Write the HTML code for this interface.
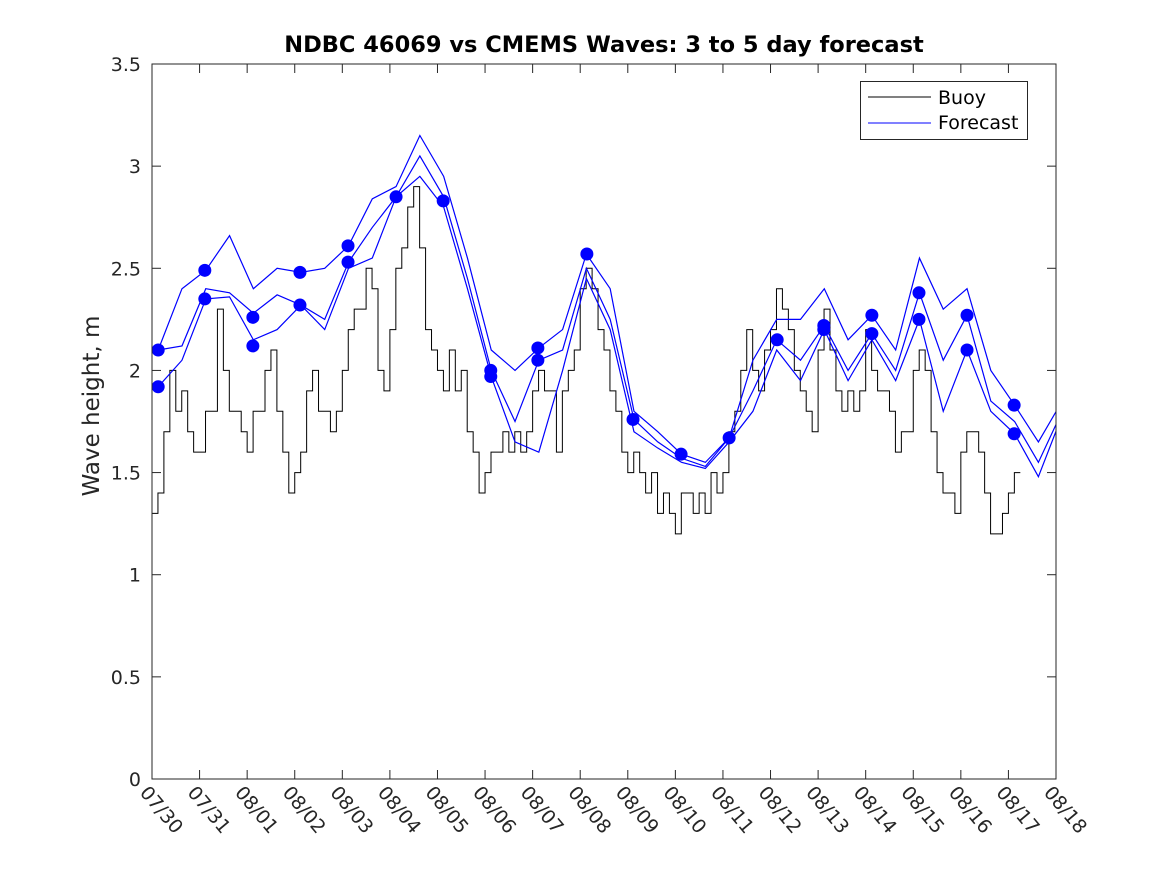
<!DOCTYPE html>
<html><head><meta charset="utf-8"><style>
html,body{margin:0;padding:0;background:#fff;}
svg{display:block;font-family:"DejaVu Sans","Liberation Sans",sans-serif;}
</style></head><body>
<svg id="chart" width="1167" height="875" viewBox="0 0 1167 875">
<rect x="0" y="0" width="1167" height="875" fill="#fff"/>
<defs><clipPath id="pc"><rect x="152" y="64" width="904" height="715"/></clipPath></defs>
<text x="604" y="52" text-anchor="middle" font-size="22.5" font-weight="bold" fill="#000">NDBC 46069 vs CMEMS Waves: 3 to 5 day forecast</text>
<text transform="translate(99,406) rotate(-90)" text-anchor="middle" font-size="23" fill="#262626">Wave height, m</text>
<g id="axes"></g>
<g id="series" clip-path="url(#pc)"></g>
<rect x="152" y="64" width="904" height="715" fill="none" stroke="#262626" stroke-width="1"/>
<g>
<rect x="860.5" y="81.5" width="167" height="58" fill="#fff" stroke="#262626" stroke-width="1"/>
<line x1="868" y1="97" x2="931" y2="97" stroke="#000" stroke-width="1"/>
<text x="938" y="104" font-size="19" fill="#000">Buoy</text>
<line x1="868" y1="123" x2="931" y2="123" stroke="#00f" stroke-width="1"/>
<text x="938" y="129" font-size="19" fill="#000">Forecast</text>
</g>
</svg>
<script>
const xTickLabels = ["07/30","07/31","08/01","08/02","08/03","08/04","08/05","08/06","08/07","08/08","08/09","08/10","08/11","08/12","08/13","08/14","08/15","08/16","08/17","08/18"];
const yTicks = [0,0.5,1,1.5,2,2.5,3,3.5];
const yTickLabels = ["0","0.5","1","1.5","2","2.5","3","3.5"];
// buoy: 3-hourly samples starting 07/30 00:00
const buoyStep = 0.125;
const buoy = [1.3,1.4,1.7,2.0,1.8,1.9,1.7,1.6,1.6,1.8,1.8,2.3,2.0,1.8,1.8,1.7,1.6,1.8,1.8,2.0,2.1,1.8,1.6,1.4,1.5,1.6,1.9,2.0,1.8,1.8,1.7,1.8,2.0,2.2,2.3,2.3,2.5,2.4,2.0,1.9,2.2,2.5,2.6,2.8,2.9,2.6,2.2,2.1,2.0,1.9,2.1,1.9,2.0,1.7,1.6,1.4,1.5,1.6,1.6,1.7,1.6,1.7,1.6,1.7,1.9,2.0,1.9,1.9,1.6,1.9,2.0,2.1,2.4,2.5,2.4,2.2,2.1,1.9,1.8,1.6,1.5,1.6,1.5,1.4,1.5,1.3,1.4,1.3,1.2,1.4,1.4,1.3,1.4,1.3,1.5,1.4,1.5,1.7,1.8,2.0,2.2,2.0,1.9,2.1,2.2,2.4,2.3,2.2,2.0,1.9,1.8,1.7,2.1,2.3,2.1,1.9,1.8,1.9,1.8,1.9,2.2,2.0,1.9,1.9,1.8,1.6,1.7,1.7,2.0,2.1,2.0,1.7,1.5,1.4,1.4,1.3,1.6,1.7,1.7,1.6,1.4,1.2,1.2,1.3,1.4,1.5];
// forecast lines: half-day samples starting at day 0.13
const fcStart = 0.13;
const fcStep = 0.5;
const forecastA = [2.10,2.40,2.49,2.66,2.40,2.50,2.48,2.50,2.61,2.84,2.90,3.15,2.95,2.55,2.10,2.00,2.11,2.20,2.57,2.40,1.80,1.70,1.59,1.55,1.67,2.05,2.25,2.25,2.40,2.15,2.27,2.10,2.55,2.30,2.40,2.00,1.83,1.65,1.85];
const forecastB = [2.10,2.12,2.40,2.38,2.28,2.37,2.32,2.25,2.53,2.70,2.85,3.05,2.85,2.45,2.00,1.75,2.05,2.10,2.50,2.25,1.76,1.65,1.57,1.53,1.67,1.90,2.15,2.05,2.22,2.00,2.18,2.00,2.38,2.05,2.27,1.85,1.75,1.55,1.80];
const forecastC = [1.92,2.05,2.35,2.36,2.15,2.20,2.32,2.20,2.50,2.55,2.85,2.95,2.80,2.40,1.97,1.65,1.60,2.00,2.45,2.20,1.70,1.62,1.55,1.52,1.65,1.80,2.10,1.95,2.20,1.95,2.15,1.95,2.25,1.80,2.10,1.80,1.69,1.48,1.78];
const dotDays = [0.13,0.13,1.11,1.11,2.12,2.12,3.11,3.11,4.12,4.12,5.13,6.12,7.12,7.12,8.11,8.11,9.14,10.11,11.12,12.13,13.14,14.12,14.12,15.13,15.13,16.12,16.12,17.13,17.13,18.12,18.12];
const dotValues = [2.10,1.92,2.49,2.35,2.26,2.12,2.48,2.32,2.61,2.53,2.85,2.83,2.00,1.97,2.11,2.05,2.57,1.76,1.59,1.67,2.15,2.22,2.20,2.27,2.18,2.38,2.25,2.27,2.10,1.83,1.69];

const X0=152,X1=1056,Y0=779,Y1=64;
const xs = d => X0 + d*(X1-X0)/19;
const ys = v => Y0 - v*(Y0-Y1)/3.5;
const NS="http://www.w3.org/2000/svg";
function mk(tag, attrs, parent){const e=document.createElementNS(NS,tag);for(const k in attrs)e.setAttribute(k,attrs[k]);parent.appendChild(e);return e;}
const axes=document.getElementById('axes'), series=document.getElementById('series');

yTicks.forEach((v,i)=>{
  const y=ys(v);
  const t=mk('line',{x1:X0,y1:y,x2:X0+9,y2:y,stroke:'#262626'},axes);
  
  
  const t2=mk('line',{x1:X1,y1:y,x2:X1-9,y2:y,stroke:'#262626'},axes);
  
  
  const l=mk('text',{x:X0-11,y:y+7,'text-anchor':'end','font-size':'19',fill:'#262626'},axes);
  l.textContent=yTickLabels[i];
  
  
});
xTickLabels.forEach((s,i)=>{
  const x=xs(i);
  const t=mk('line',{x1:x,y1:Y0,x2:x,y2:Y0-9,stroke:'#262626'},axes);
  
  
  const t2=mk('line',{x1:x,y1:Y1,x2:x,y2:Y1+9,stroke:'#262626'},axes);
  
  
  const l=mk('text',{transform:`translate(${x-13},${Y0+14}) rotate(50)`,'font-size':'19',fill:'#262626'},axes);
  l.textContent=s;
  
  
});

// buoy stairs
let d='';
buoy.forEach((v,i)=>{
  const x=xs(i*buoyStep), y=ys(v);
  d += (i===0?`M${x},${y}`:`V${y}`) + `H${xs((i+1)*buoyStep)}`;
});
const bp=mk('path',{d:d,fill:'none',stroke:'#000','stroke-width':'1'},series);



[[forecastA,'forecast-line-a'],[forecastB,'forecast-line-b'],[forecastC,'forecast-line-c']].forEach(([arr,name])=>{
  const pts=arr.map((v,i)=>`${xs(fcStart+i*fcStep)},${ys(v)}`).join(' ');
  const p=mk('polyline',{points:pts,fill:'none',stroke:'#00f','stroke-width':'1.2'},series);
  
  
});
dotDays.forEach((dd,i)=>{
  const c=mk('circle',{cx:xs(dd),cy:ys(dotValues[i]),r:6.5,fill:'#00f'},series);
  
  
});
</script>
</body></html>
